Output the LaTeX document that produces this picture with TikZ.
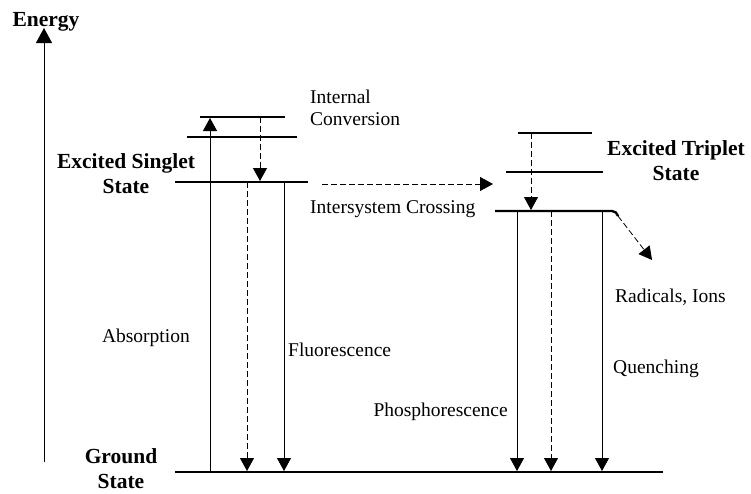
\documentclass[tikz,border=0pt]{standalone}
\usepackage{fontspec}
\setmainfont{Liberation Serif}
\usetikzlibrary{arrows.meta}
\begin{document}
\begin{tikzpicture}[x=1pt,y=-1pt,
  lev/.style={line width=2.3pt},
  arr/.style={line width=0.8pt,-{Triangle[length=13pt,width=14pt]}},
  darr/.style={line width=0.8pt,dash pattern=on 6pt off 3pt,-{Triangle[length=13pt,width=14pt]}},
  axarr/.style={line width=0.8pt,-{Triangle[length=15pt,width=16pt]}},
  lbl/.style={inner sep=0pt,font=\fontsize{19.5}{22}\selectfont},
  blbl/.style={inner sep=0pt,align=center,font=\fontsize{21.5}{25}\selectfont\bfseries}]
\useasboundingbox (0,0) rectangle (751,493);
% energy axis
\coordinate (axB) at (44,462);
\coordinate (axT) at (44,28);
\draw[axarr] (axB) -- (axT);
\node[blbl,anchor=base] (energy) at (46,26) {Energy};
% singlet levels
\coordinate (S3L) at (200,117); \coordinate (S3R) at (285,117);
\coordinate (S2L) at (187,137); \coordinate (S2R) at (297,137);
\coordinate (S1L) at (175,182); \coordinate (S1R) at (308,182);
\draw[lev] (S3L) -- (S3R);
\draw[lev] (S2L) -- (S2R);
\draw[lev] (S1L) -- (S1R);
% triplet levels
\coordinate (T3L) at (518,133); \coordinate (T3R) at (592,133);
\coordinate (T2L) at (506,172); \coordinate (T2R) at (603,172);
\coordinate (T1L) at (495,211); \coordinate (T1R) at (612,211);
\coordinate (T1B) at (618,216);
\draw[lev] (T3L) -- (T3R);
\draw[lev] (T2L) -- (T2R);
\draw[lev,rounded corners=5pt] (T1L) -- (617,211) -- (T1B);
% ground
\coordinate (GL) at (175,472); \coordinate (GR) at (663,472);
\draw[lev] (GL) -- (GR);
% arrow end points
\coordinate (absB) at (210,472); \coordinate (absT) at (210,118);
\coordinate (icT) at (260,117); \coordinate (icB) at (260,181);
\coordinate (flDT) at (247,182); \coordinate (flDB) at (247,471);
\coordinate (flST) at (284,182); \coordinate (flSB) at (284,471);
\coordinate (iscA) at (322,184); \coordinate (iscB) at (493,184);
\coordinate (ticT) at (531,133); \coordinate (ticB) at (531,210);
\coordinate (p1T) at (517,211); \coordinate (p1B) at (517,471);
\coordinate (p2T) at (551,211); \coordinate (p2B) at (551,471);
\coordinate (p3T) at (602,211); \coordinate (p3B) at (602,471);
\coordinate (qT) at (652,260);
\draw[arr] (absB) -- (absT);
\draw[darr] (icT) -- (icB);
\draw[darr] (flDT) -- (flDB);
\draw[arr] (flST) -- (flSB);
\draw[darr] (iscA) -- (iscB);
\draw[darr] (ticT) -- (ticB);
\draw[arr] (p1T) -- (p1B);
\draw[darr] (p2T) -- (p2B);
\draw[arr] (p3T) -- (p3B);
\draw[darr] (T1B) -- (qT);
% labels
\node[lbl,anchor=base west,align=left] (ic) at (310,125) {Internal\\Conversion};
\node[blbl,anchor=base] (sing) at (126,193) {Excited Singlet\\State};
\node[blbl,anchor=base] (trip) at (676,180) {Excited Triplet\\State};
\node[lbl,anchor=base west] (isc) at (310,213) {Intersystem Crossing};
\node[lbl,anchor=base east] (abs) at (190,342) {Absorption};
\node[lbl,anchor=base west] (fl) at (288,356) {Fluorescence};
\node[lbl,anchor=base east] (ph) at (508,416) {Phosphorescence};
\node[lbl,anchor=base west] (rad) at (615,302) {Radicals, Ions};
\node[lbl,anchor=base west] (qu) at (613,373) {Quenching};
\node[blbl,anchor=base] (gs) at (121,488) {Ground\\State};
\end{tikzpicture}
\end{document}
